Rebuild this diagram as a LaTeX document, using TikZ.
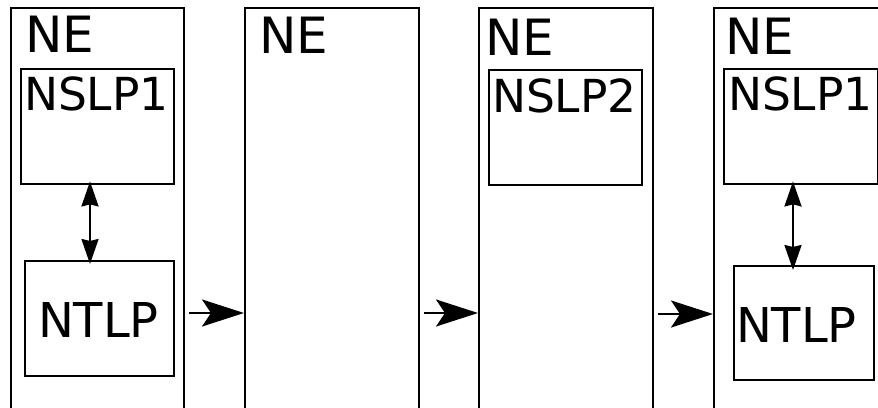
\documentclass[tikz,border=0pt]{standalone}
\usepackage{fontspec}
\setmainfont{DejaVu Sans}
\usetikzlibrary{arrows.meta}
\tikzset{
  outerbox/.style={draw, line width=2.4pt, inner sep=0pt, anchor=north west, minimum height=440pt},
  innerbox/.style={draw, line width=2.4pt, inner sep=0pt, anchor=north west},
  lbl/.style={anchor=base west, inner sep=0pt, outer sep=0pt},
  harrow/.style={line width=2.4pt, -{Stealth[length=42pt,width=27pt,inset=9pt]}},
  varrow/.style={line width=2.2pt, {Stealth[length=25pt,width=17pt,inset=2pt]}-{Stealth[length=25pt,width=17pt,inset=2pt]}}
}
\newcommand{\nefont}{\fontsize{50}{50}\selectfont}
\newcommand{\slfont}{\fontsize{45.5}{45.5}\selectfont}
\newcommand{\tlfont}{\fontsize{48}{48}\selectfont}
\begin{document}
\begin{tikzpicture}[x=1pt,y=-1pt]
\useasboundingbox (0,0) rectangle (878,407);
\clip (0,0) rectangle (878,407);
% outer NE boxes
\node[outerbox, minimum width=173pt] (ne1) at (10,7) {};
\node[outerbox, minimum width=174pt] (ne2) at (244,7) {};
\node[outerbox, minimum width=174pt] (ne3) at (478,7) {};
\node[outerbox, minimum width=200pt] (ne4) at (713,7) {};
% NE labels
\node[lbl] (t1) at (25,52) {\nefont NE};
\node[lbl] (t2) at (259,53) {\nefont NE};
\node[lbl] (t3) at (485,55) {\nefont NE};
\node[lbl] (t4) at (725,54) {\nefont NE};
% inner boxes
\node[innerbox, minimum width=153pt, minimum height=115pt] (s1) at (20,68) {};
\node[innerbox, minimum width=149pt, minimum height=115pt] (p1) at (24,260) {};
\node[innerbox, minimum width=153pt, minimum height=115pt] (s3) at (488,69) {};
\node[innerbox, minimum width=154pt, minimum height=115pt] (s4) at (723,68) {};
\node[innerbox, minimum width=140pt, minimum height=114pt] (p4) at (733,265) {};
% inner labels
\node[lbl] (l1) at (24,110) {\slfont NSLP1};
\node[lbl] (l2) at (38,337) {\tlfont NTLP};
\node[lbl] (l3) at (492,112) {\slfont NSLP2};
\node[lbl] (l4) at (728,110) {\slfont NSLP1};
\node[lbl] (l5) at (736,342) {\tlfont NTLP};
% helper coordinates
\coordinate (v1) at (90,0);
\coordinate (v4) at (793,0);
\coordinate (h1) at (0,313);
\coordinate (h3) at (0,314);
% vertical arrows
\draw[varrow] ([yshift=4pt]s1.south -| v1) -- ([yshift=-4pt]p1.north -| v1);
\draw[varrow] ([yshift=4pt]s4.south -| v4) -- ([yshift=-5pt]p4.north -| v4);
% horizontal arrows
\draw[harrow] ([xshift=4pt]ne1.east |- h1) -- (ne2.west |- h1);
\draw[harrow] ([xshift=4pt]ne2.east |- h1) -- (ne3.west |- h1);
\draw[harrow] ([xshift=4pt]ne3.east |- h3) -- (ne4.west |- h3);
\end{tikzpicture}
\end{document}
